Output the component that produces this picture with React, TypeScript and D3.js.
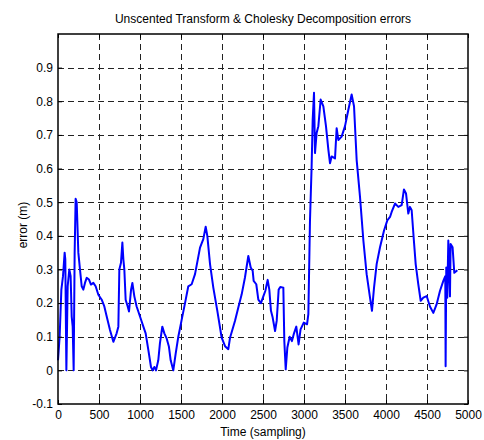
import React, { useRef, useEffect } from "react";
import { select, scaleLinear, line, axisBottom, axisLeft, axisTop, axisRight } from "d3";

// sample index along x, error along y
const timeSteps = [
  0, 20, 41, 61, 81, 89, 102, 118, 138, 154, 167, 179, 191, 203, 215, 228, 248, 268, 289, 309,
  329, 350, 378, 402, 431, 459, 492, 533, 565, 594, 634, 675, 715, 736, 748, 768, 785, 797, 809, 825,
  850, 866, 891, 907, 931, 959, 1000, 1041, 1069, 1102, 1134, 1154, 1175, 1195, 1223, 1243, 1272, 1297, 1325, 1353,
  1374, 1406, 1435, 1467, 1508, 1549, 1589, 1630, 1671, 1732, 1772, 1801, 1821, 1854, 1894, 1943, 1996, 2037, 2077, 2098,
  2158, 2199, 2240, 2280, 2321, 2350, 2374, 2386, 2418, 2443, 2475, 2504, 2528, 2557, 2577, 2597, 2618, 2647, 2667, 2691,
  2711, 2748, 2760, 2777, 2797, 2825, 2853, 2878, 2906, 2934, 2958, 2997, 3037, 3053, 3073, 3093, 3106, 3122, 3134, 3154,
  3175, 3203, 3236, 3268, 3297, 3317, 3337, 3378, 3398, 3419, 3459, 3500, 3541, 3581, 3610, 3642, 3683, 3724, 3764, 3805,
  3829, 3854, 3886, 3927, 3976, 4016, 4049, 4069, 4110, 4150, 4191, 4219, 4244, 4272, 4292, 4313, 4340, 4362, 4394, 4423,
  4455, 4496, 4536, 4577, 4617, 4658, 4699, 4723, 4727, 4735, 4747, 4760, 4780, 4788, 4812, 4833, 4870,
];
const errors = [
  0.03, 0.1, 0.24, 0.28, 0.35, 0.33, 0.0, 0.25, 0.3, 0.28, 0.16, 0.13, 0.0, 0.35, 0.51, 0.5, 0.35, 0.3, 0.25, 0.24,
  0.26, 0.275, 0.27, 0.255, 0.26, 0.25, 0.225, 0.21, 0.19, 0.16, 0.12, 0.085, 0.11, 0.13, 0.3, 0.32, 0.38, 0.33, 0.3, 0.21,
  0.19, 0.175, 0.24, 0.26, 0.22, 0.19, 0.16, 0.13, 0.11, 0.06, 0.01, 0.0, 0.01, 0.0, 0.03, 0.08, 0.13, 0.11, 0.095, 0.07,
  0.03, 0.0, 0.05, 0.1, 0.15, 0.2, 0.25, 0.256, 0.286, 0.365, 0.39, 0.427, 0.4, 0.316, 0.246, 0.177, 0.097, 0.072, 0.063, 0.097,
  0.147, 0.187, 0.226, 0.276, 0.34, 0.306, 0.296, 0.266, 0.256, 0.21, 0.2, 0.22, 0.236, 0.269, 0.24, 0.177, 0.157, 0.117, 0.147, 0.24,
  0.248, 0.246, 0.087, 0.003, 0.068, 0.1, 0.087, 0.11, 0.13, 0.077, 0.122, 0.142, 0.137, 0.167, 0.446, 0.606, 0.746, 0.825, 0.646, 0.706,
  0.726, 0.805, 0.785, 0.726, 0.656, 0.616, 0.636, 0.63, 0.72, 0.685, 0.695, 0.726, 0.775, 0.82, 0.785, 0.626, 0.516, 0.386, 0.286, 0.216,
  0.177, 0.246, 0.316, 0.366, 0.416, 0.446, 0.456, 0.471, 0.496, 0.486, 0.491, 0.538, 0.526, 0.466, 0.486, 0.476, 0.386, 0.316, 0.256, 0.207,
  0.216, 0.221, 0.19, 0.171, 0.196, 0.236, 0.266, 0.28, 0.012, 0.306, 0.216, 0.386, 0.22, 0.376, 0.366, 0.29, 0.298,
];
const xTicks = [0, 500, 1000, 1500, 2000, 2500, 3000, 3500, 4000, 4500, 5000];
const yTicks = [-0.1, 0, 0.1, 0.2, 0.3, 0.4, 0.5, 0.6, 0.7, 0.8, 0.9];
const titleText = "Unscented Transform & Cholesky Decomposition errors";
const xLabel = "Time (sampling)";
const yLabel = "error (m)";

const W = 484;
const H = 440;
const margin = { top: 34, right: 16, bottom: 36, left: 58 };
const font = "'Liberation Sans', Arial, sans-serif";
const fontSize = 12;

function ErrorChart() {
  const svgRef = useRef<SVGSVGElement>(null);

  useEffect(() => {
    const svg = select(svgRef.current);
    svg.selectAll("*").remove();
    const iw = W - margin.left - margin.right;
    const ih = H - margin.top - margin.bottom;

    const xScale = scaleLinear().domain([0, 5000]).range([0, iw]);
    const yScale = scaleLinear().domain([-0.1, 1.0]).range([ih, 0]);
    const fmt = (d: any) => String(Math.round(d * 10) / 10);

    const g = svg.append("g").attr("transform", `translate(${margin.left},${margin.top})`);

    // dashed grid
    g.append("g")
      .selectAll("line")
      .data(xTicks.slice(1, -1))
      .join("line")
      .attr("x1", (d) => Math.round(xScale(d)) + 0.5)
      .attr("x2", (d) => Math.round(xScale(d)) + 0.5)
      .attr("y1", 0)
      .attr("y2", ih)
      .attr("stroke", "#222")
      .attr("stroke-dasharray", "6,4");
    g.append("g")
      .selectAll("line")
      .data(yTicks.slice(1))
      .join("line")
      .attr("y1", (d) => Math.round(yScale(d)) + 0.5)
      .attr("y2", (d) => Math.round(yScale(d)) + 0.5)
      .attr("x1", 0)
      .attr("x2", iw)
      .attr("stroke", "#222")
      .attr("stroke-dasharray", "6,4");

    // error curve
    const pts = timeSteps.map((t, i) => [t, errors[i]] as [number, number]);
    const lineGen = line<[number, number]>()
      .x((d) => xScale(d[0]))
      .y((d) => yScale(d[1]));
    g.append("path")
      .datum(pts)
      .attr("d", lineGen)
      .attr("fill", "none")
      .attr("stroke", "#0000ff")
      .attr("stroke-width", 2)
      .attr("stroke-linejoin", "round");

    // axes, ticks pointing inward
    const xb = g
      .append("g")
      .attr("transform", `translate(0,${ih})`)
      .call(axisBottom(xScale).tickValues(xTicks).tickSizeInner(-4).tickSizeOuter(0).tickPadding(6).tickFormat(fmt));
    const yl = g
      .append("g")
      .call(axisLeft(yScale).tickValues(yTicks).tickSizeInner(-4).tickSizeOuter(0).tickPadding(5).tickFormat(fmt));
    const xt = g.append("g").call(axisTop(xScale).tickValues(xTicks).tickSizeInner(-4).tickSizeOuter(0).tickFormat(() => ""));
    const yr = g
      .append("g")
      .attr("transform", `translate(${iw},0)`)
      .call(axisRight(yScale).tickValues(yTicks).tickSizeInner(-4).tickSizeOuter(0).tickFormat(() => ""));
    [xb, yl, xt, yr].forEach((a) => {
      a.select(".domain").remove();
      a.selectAll("line").attr("stroke", "#000");
      a.selectAll("text").attr("font-family", font).attr("font-size", fontSize).attr("fill", "#000");
    });

    // frame
    g.append("rect")
      .attr("width", iw)
      .attr("height", ih)
      .attr("fill", "none")
      .attr("stroke", "#000")
      .attr("stroke-width", 1.5);

    // labels
    svg.append("text")
      .attr("x", margin.left + iw / 2)
      .attr("y", 23)
      .attr("text-anchor", "middle")
      .attr("font-family", font)
      .attr("font-size", fontSize)
      .text(titleText);
    svg.append("text")
      .attr("x", margin.left + iw / 2)
      .attr("y", 436)
      .attr("text-anchor", "middle")
      .attr("font-family", font)
      .attr("font-size", fontSize)
      .text(xLabel);
    svg.append("text")
      .attr("transform", `translate(27,225) rotate(-90)`)
      .attr("text-anchor", "middle")
      .attr("font-family", font)
      .attr("font-size", fontSize)
      .text(yLabel);
  }, []);

  return (
    <svg
      ref={svgRef}
      width={W}
      height={H}
      style={{ position: "absolute", left: 0, top: 0, background: "#fff" }}
    />
  );
}

export default function App() {
  return <ErrorChart />;
}
